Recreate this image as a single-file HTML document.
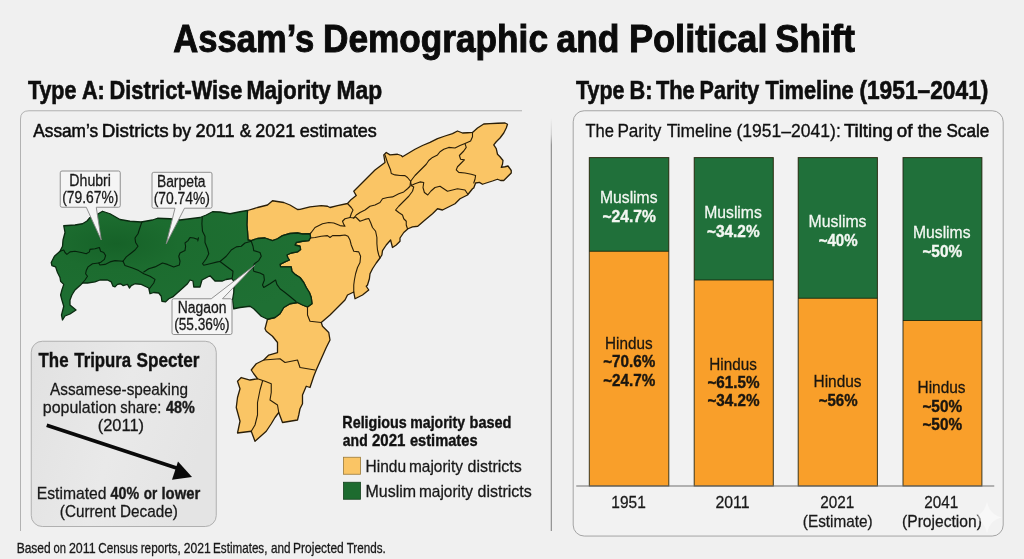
<!DOCTYPE html>
<html lang="en"><head><meta charset="utf-8"><title>Assam’s Demographic and Political Shift</title>
<style>html,body{margin:0;padding:0;background:#f0f0f0;}body{width:1024px;height:559px;overflow:hidden;}svg{display:block}</style>
</head><body>
<svg width="1024" height="559" viewBox="0 0 1024 559" font-family="'Liberation Sans', Arial, sans-serif">
<defs>
<linearGradient id="tg" x1="0" y1="0" x2="1" y2="0.3"><stop offset="0" stop-color="#e1e1e1"/><stop offset="0.55" stop-color="#e9e9e9"/><stop offset="1" stop-color="#e4e4e4"/></linearGradient>
<radialGradient id="gg" cx="0.25" cy="0.3" r="0.8"><stop offset="0" stop-color="#166228"/><stop offset="0.3" stop-color="#1c6c2f"/><stop offset="1" stop-color="#1f7034"/></radialGradient>
<linearGradient id="vl" x1="0" y1="0" x2="0" y2="1"><stop offset="0" stop-color="#707070" stop-opacity="0"/><stop offset="0.04" stop-color="#707070" stop-opacity="0.35"/><stop offset="0.065" stop-color="#707070" stop-opacity="1"/><stop offset="1" stop-color="#707070"/></linearGradient>
</defs>
<rect width="1024" height="559" fill="#f0f0f0"/>
<!-- left panel lines -->
<path d="M20.5,531 V119 Q20.5,110.75 29,110.75 H522" fill="none" stroke="#aaaaaa" stroke-width="0.9"/>
<rect x="550.8" y="118" width="0.9" height="413" fill="url(#vl)"/>
<!-- right panel -->
<rect x="573.2" y="110.75" width="430" height="425.3" rx="11" ry="11" fill="#f2f2f2" stroke="#a4a4a4" stroke-width="1"/>
<!-- map -->
<g stroke-linejoin="round" stroke-linecap="round">
<path d="M247.5,210.5 L257.5,207.5 L267.5,205 L272.5,200.75 L283.75,202.5 L290,205 L297.5,209.5 L300,209.4 L310,206.9 L321.25,205.6 L327.5,206.25 L330,207.5 L337.5,205.6 L347.5,203.5 L351.25,199.4 L356.25,195.6 L353.75,191.25 L360,185 L367.5,177.5 L375,170 L385,162.5 L383.75,155 L386.25,152.5 L390,154.9 L397.5,154.25 L401.25,155.5 L402.5,156.75 L408.75,153 L415,149.25 L422.5,145.5 L430,142.4 L437.5,138.6 L445,136 L452.5,133.6 L457.5,131 L462.5,133 L467.5,132.75 L472.5,132.4 L477.5,128 L483.75,124 L490,123.6 L497.5,123.25 L505,123 L507.5,124.25 L506.25,128 L503.75,133 L500,138 L496.25,141.75 L493.75,144.9 L496.25,148.6 L497.5,154.25 L500,156.75 L503,160.5 L502.5,164.25 L501.25,167.4 L505,166.75 L508,166 L511.25,170.5 L511.25,173 L507.5,176.75 L503.75,180.5 L500.6,180.5 L497.5,179.25 L492.5,181 L486.25,183 L482.5,184.25 L479.4,182.4 L475.6,183 L473.75,187.9 L472.5,188.75 L467.5,195 L460,198.75 L455,203.75 L447.5,207.5 L442.5,210 L437.5,208.75 L432.5,213.75 L425,220 L417.75,226.25 L412.5,226.9 L408,228.75 L403.75,232.5 L400,238 L400,241.25 L396.25,245 L392.5,247.5 L390.6,240 L386.25,245 L382.5,250.6 L381.9,255 L380,258 L376.25,263 L372.5,268.75 L370,273.75 L369.4,278.75 L367.5,285 L366.25,286.25 L368.75,290 L362.5,295 L355,298.75 L353.75,292 L347.5,295 L345,300 L337.5,307.5 L330,315 L321.25,322.5 L322.5,326.25 L328.75,332.5 L330,340 L326.25,347.5 L321.25,358.75 L316.25,370 L313.75,376.25 L311.25,383.75 L310,387.5 L306.25,386.25 L302.5,395 L302.5,403.75 L300,408.75 L298.75,415 L297.5,420 L282.5,422.5 L278.75,412.5 L275,417.5 L271.25,423.75 L266.25,431.25 L255,441.25 L251.25,431.25 L237.5,433 L240,421.25 L236.25,407.5 L237.5,397.5 L240,388.75 L237.5,381.25 L241.25,377.5 L250,380 L257.5,378.75 L253.75,373.75 L251.25,370 L256.25,363.75 L263.75,360 L268.75,355 L277.5,352.5 L277.5,342.5 L272.5,336.25 L266.25,331.25 L265,328.75 L267.5,319.25 L275,317.5 L280,313.75 L283.75,307.5 L290,303.75 L297.5,302.5 L302.5,305 L307.5,307 L312,303.75 L311.25,297.5 L309.4,292.5 L306.25,287.5 L303.75,282.5 L300,277.5 L295,274.4 L291.9,271.25 L291.25,266.9 L286.25,266.9 L280.6,266.9 L280,264.4 L285,261.9 L289.4,260 L288,258 L286.9,255 L291.25,253 L297.5,251.9 L300.6,249.4 L300,246.25 L295,245 L296.25,242.5 L302.5,241.25 L308.75,240.6 L310.6,237.5 L310,233.75 L302.5,234 L297.5,233 L290,233.5 L282.5,235.6 L277.5,238.75 L272.5,240.6 L265,238 L257.5,238.5 L251.25,240.6 L248,240 L247.5,231.25 L246.9,225 L247.5,210.5Z" fill="#fac565" stroke="#2a1e08" stroke-width="1.3"/>
<path d="M63.75,225.75 L75,225 L82.5,223.75 L87,221 L90,217.5 L96.25,215 L102.5,211.25 L110,213.75 L120,219.5 L130,221.25 L141.25,222 L152.5,220 L157.5,218.25 L170,218.75 L180,220 L190,218.75 L200,217.5 L206.25,215 L212.5,211.75 L220,212 L230,213.75 L240,211.75 L247.5,210.5 L246.9,225 L247.5,231.25 L248,240 L251.25,240.6 L257.5,238.5 L265,238 L272.5,240.6 L277.5,238.75 L282.5,235.6 L290,233.5 L297.5,233 L302.5,234 L310,233.75 L310.6,237.5 L308.75,240.6 L302.5,241.25 L296.25,242.5 L295,245 L300,246.25 L300.6,249.4 L297.5,251.9 L291.25,253 L286.9,255 L288,258 L289.4,260 L285,261.9 L280,264.4 L280.6,266.9 L286.25,266.9 L291.25,266.9 L291.9,271.25 L295,274.4 L300,277.5 L303.75,282.5 L306.25,287.5 L309.4,292.5 L311.25,297.5 L312,303.75 L307.5,307 L302.5,305 L297.5,302.5 L290,303.75 L283.75,307.5 L280,313.75 L275,317.5 L267.5,319.25 L261.25,316.25 L253.75,308.75 L250,306.25 L240,307.5 L233.75,308.75 L232.5,300 L233.75,292.5 L234,282 L232,278.5 L226,279.5 L222.5,281 L215,281 L210,275.75 L202,280 L200,287 L193.75,287 L193,281 L190,280 L187.5,283.75 L180,290.5 L172.75,296.9 L168.75,298.75 L165.6,301.9 L161.9,301.25 L161.25,296.25 L158.75,293 L153.75,292.5 L150,293.75 L148.75,288 L145,286.25 L141.25,284.4 L135,283.75 L131.25,285.6 L129.4,288 L127.5,284.4 L123,285.6 L120.6,283.75 L117.5,284.4 L115,286.9 L113,286.25 L111.25,281.9 L107.5,280 L100,280 L95,281.9 L87.5,283 L82.5,283 L80,285.6 L75,290 L71.9,295 L70,300 L70,305 L76,310 L70,314 L65,316 L62.5,320 L61.5,315 L63.75,306.25 L61.9,300 L60.6,295 L61.9,290 L63.75,284.4 L60.6,281.25 L60,277.5 L57.5,272.5 L55.6,266.9 L51.9,265.6 L51.25,262.5 L54.4,256.25 L60,251.25 L62.5,246.25 L63,240 L65,232.5Z" fill="url(#gg)" stroke="#0a2a10" stroke-width="1.3"/>
<g fill="none" stroke="#2a1e08" stroke-width="1.1">
<path d="M347.5,203.5 L351.25,207.5 L353,210 L351.25,213.75 L350,217.5 L353.75,218"/><path d="M353.75,218 L356.25,215 L360,212.5 L365,210 L370,206.25 L375,205 L380,202.5 L382.5,198.75 L387.5,197.5 L392.5,196.9 L398.75,193.75 L403.75,191.9 L407.5,188.75 L410,186.25 L410.6,181.25"/><path d="M385,155 L387.5,162.5 L390.6,170 L391.25,173.5 L395,174.9 L400,175.5 L405,175.6 L407.5,177.5 L410.6,181.25"/><path d="M410.6,181.25 L415,175.5 L418.75,171.75 L422.5,168 L426.25,164.25 L428.75,160.5 L432.5,157.4 L437.5,154.9 L440,151.75 L443.75,149.25 L448.75,147.4 L455,148 L460,145.5 L465,143.6 L470.6,141 L472.5,136.75 L472.5,132.4"/><path d="M465,143.6 L466.25,147.4 L463.75,151 L459.4,155.5 L460.6,159.25 L464.4,159.9 L461.25,163 L457.5,166.75 L456.25,169.9 L458.75,172.4 L465,173 L471.25,174.25 L475.6,175.5 L475,179.25 L473.75,183"/><path d="M410.6,181.25 L411.25,185.6 L415,183.75 L420,181.9 L423.75,182.5 L423,187.5 L424.4,192.5 L427.75,195 L431,191 L435,187.5 L440,186.25 L447.5,191.25 L457.5,188.75 L465,190 L467.5,193.75"/><path d="M411.25,185.6 L413.75,186.9 L412.5,191.25 L408.75,196.25 L403.75,201.25 L398.75,206.25 L395.6,210 L398.75,212.5 L402.5,215 L403.75,218.75 L406.25,221.25 L406.25,225 L407.5,228.75"/><path d="M353.75,218 L355.6,216.9 L357.5,218.75 L360,221.25 L365,219.4 L368.75,218.5 L370.6,222.5 L372.5,227.5 L375.6,231.25 L376.9,237.5 L376.9,243.75 L377.5,250 L378.75,255 L380,258"/><path d="M350,217.5 L345,218.75 L342.5,221.25 L343.75,224.4 L345,226.25 L340,225.6 L333.75,223 L328.75,222.5 L322.5,223.75 L315,227.5 L311.25,232.5 L310,233.75"/><path d="M310.6,238 L315,237.5 L321.25,236.25 L327.5,235.6 L330,237.5 L332.5,235.6 L340,235.6 L345,235 L348,236.25 L350,240 L351.25,245 L353.75,251.25 L358.75,251.9 L360.6,256.25 L360,262.5 L357.5,267.5 L355.6,273.75 L354.4,280 L353.75,285 L353.75,292"/><path d="M307.5,307 L307.5,315 L310,321.25 L321.25,322.5"/><path d="M263.75,360 L280,358.75 L285,362.5 L297.5,360 L300,367.5 L315,370"/><path d="M257.5,378.75 L265,381.25 L271.25,383.75 L271.25,392.5 L270,400 L277.5,405 L278.75,412.5"/><path d="M262.5,381.25 L260,390 L257.5,402.5 L257.5,415 L255,425 L251.25,431.25"/>
</g>
<g fill="none" stroke="#06220c" stroke-width="1.1">
<path d="M141.9,221.9 L140,227.5 L138,233.75 L135,238 L135.6,242.5 L138,246.25 L135,250 L131.25,253 L126.25,256.9 L123,261.25"/><path d="M60,251.25 L63.75,250 L65,252.5 L66.9,254.4 L70,251.9 L75,251.25 L81.25,252.5 L86.25,253.75 L89.4,251.9 L90,249.4 L95,248.75 L99.4,247.5 L100.6,251.25 L103.75,252.5 L105.6,255.6 L104.4,259.4 L101.25,261.9 L98.75,263 L100,265 L105,264.4 L110,261.9 L115,260.6 L123,261.25"/><path d="M98.75,263 L92.5,263.75 L88,266.9 L86.25,270.6 L85.6,273.75 L87.5,276.25 L85,280 L82.5,283"/><path d="M123,261.25 L125,265.6 L132.5,268 L138.75,270.6 L143.75,273.75 L150,276.25 L155,279.4 L153.75,283 L151.25,286.25 L149.4,288.75"/><path d="M143.75,272 L148.75,268.75 L155,266.9 L162.5,263 L167.5,264.4 L173.75,266.9 L179.4,265 L180,261.25 L178.75,256.25 L180,253 L185,250.6 L185.6,246.25 L185,243 L188,240.6 L190,237.5 L193.75,238 L198,239.4 L198.5,237.75 L197.8,241"/><path d="M202.25,217.5 L201.9,223.75 L202.5,231.25 L205,236.25 L205,242.5 L207.5,248.75 L208.75,253.75 L206.25,258.75 L202.5,263.75 L203.75,265.25 L210,263.75 L217.5,261.9 L220,261.5"/><path d="M220,261.5 L226.25,256.25 L231.25,250 L236.25,246.9 L241.25,246.25 L245,243 L251.25,241.25"/><path d="M220,261.5 L226.25,266.25 L233,271.25 L232.5,276.25 L232,278.5"/><path d="M251.25,241.25 L253,246.25 L253.75,250.6 L260,252.5 L261.25,256.25 L258.75,260.6 L254.4,263.75 L253,267"/><path d="M253,267 L253.75,271.25 L260,273 L263.75,275 L264.4,280 L262.5,285 L263.75,287.5 L270,283.75 L275.6,280 L276.9,284.4 L280,288.75 L285,292.5 L290,296.5 L296,301.5"/><path d="M253,267 L247.5,272.5 L242.5,276.25 L235,280"/>
</g>
</g>
<!-- callouts -->
<g fill="#f5f5f5" stroke="#858585" stroke-width="0.9" stroke-linejoin="round">
<path d="M62,171 H118.5 Q120.25,171 120.25,172.75 V205.5 Q120.25,207.25 118.5,207.25 H96.25 L101.25,240 L86.25,207.25 H62 Q60.25,207.25 60.25,205.5 V172.75 Q60.25,171 62,171Z"/>
<path d="M153.75,172.3 H210.25 Q212,172.3 212,174 V206.5 Q212,208.2 210.25,208.2 H184.5 L166.25,243.75 L175,208.2 H153.75 Q152,208.2 152,206.5 V174 Q152,172.3 153.75,172.3Z"/>
<path d="M173.75,298.75 H211.25 L255,265 L222.5,298.75 H230.25 Q232,298.75 232,300.5 V332.75 Q232,334.5 230.25,334.5 H173.75 Q172,334.5 172,332.75 V300.5 Q172,298.75 173.75,298.75Z"/>
</g>
<!-- Tripura box -->
<rect x="31.25" y="341.25" width="185" height="185.25" rx="11" ry="11" fill="url(#tg)" stroke="#b0b0b0" stroke-width="1"/>
<path d="M46.75,425.25 L178,468.5" stroke="#0a0a0a" stroke-width="3.6" fill="none"/>
<path d="M192,477 L172,479.75 L178,461.5Z" fill="#0a0a0a"/>
<!-- legend -->
<rect x="343.5" y="457.25" width="17" height="17" fill="#fac565" stroke="#9a7a3a" stroke-width="0.8"/>
<rect x="343.5" y="482.25" width="17" height="17" fill="#1d6b2f" stroke="#14401c" stroke-width="0.8"/>
<!-- bars -->
<rect x="589.3" y="157.6" width="79.5" height="328.4" fill="#f99f2a"/><rect x="589.3" y="157.6" width="79.5" height="93.65" fill="#20703a"/><rect x="589.3" y="157.6" width="79.5" height="328.4" fill="none" stroke="#1c200e" stroke-width="1" stroke-opacity="0.85"/><line x1="589.3" x2="668.8" y1="251.25" y2="251.25" stroke="#15240c" stroke-width="1" stroke-opacity="0.85"/><rect x="694.2" y="157.6" width="79.1" height="328.4" fill="#f99f2a"/><rect x="694.2" y="157.6" width="79.1" height="122.4" fill="#20703a"/><rect x="694.2" y="157.6" width="79.1" height="328.4" fill="none" stroke="#1c200e" stroke-width="1" stroke-opacity="0.85"/><line x1="694.2" x2="773.3" y1="280" y2="280" stroke="#15240c" stroke-width="1" stroke-opacity="0.85"/><rect x="798.2" y="157.6" width="79.2" height="328.4" fill="#f99f2a"/><rect x="798.2" y="157.6" width="79.2" height="140.65" fill="#20703a"/><rect x="798.2" y="157.6" width="79.2" height="328.4" fill="none" stroke="#1c200e" stroke-width="1" stroke-opacity="0.85"/><line x1="798.2" x2="877.4" y1="298.25" y2="298.25" stroke="#15240c" stroke-width="1" stroke-opacity="0.85"/><rect x="903" y="157.6" width="78.9" height="328.4" fill="#f99f2a"/><rect x="903" y="157.6" width="78.9" height="162.9" fill="#20703a"/><rect x="903" y="157.6" width="78.9" height="328.4" fill="none" stroke="#1c200e" stroke-width="1" stroke-opacity="0.85"/><line x1="903" x2="981.9" y1="320.5" y2="320.5" stroke="#15240c" stroke-width="1" stroke-opacity="0.85"/>
<line x1="576.25" x2="994.25" y1="486" y2="486" stroke="#707070" stroke-width="1.2"/>
<text x="173.23" y="51.8" font-size="39.7" font-weight="700" fill="#0b0b0b" stroke="#0b0b0b" stroke-width="1.0" textLength="141.13" lengthAdjust="spacingAndGlyphs">Assam’s</text>
<text x="323.01" y="51.8" font-size="39.7" font-weight="700" fill="#0b0b0b" stroke="#0b0b0b" stroke-width="1.0" textLength="224.97" lengthAdjust="spacingAndGlyphs">Demographic</text>
<text x="556.53" y="51.8" font-size="39.7" font-weight="700" fill="#0b0b0b" stroke="#0b0b0b" stroke-width="1.0" textLength="62.99" lengthAdjust="spacingAndGlyphs">and</text>
<text x="628.95" y="51.8" font-size="39.7" font-weight="700" fill="#0b0b0b" stroke="#0b0b0b" stroke-width="1.0" textLength="138.56" lengthAdjust="spacingAndGlyphs">Political</text>
<text x="775.21" y="51.8" font-size="39.7" font-weight="700" fill="#0b0b0b" stroke="#0b0b0b" stroke-width="1.0" textLength="79.81" lengthAdjust="spacingAndGlyphs">Shift</text>
<text x="27.89" y="98.75" font-size="24.9" font-weight="700" fill="#0e0e0e" stroke="#0e0e0e" stroke-width="0.6" textLength="48.56" lengthAdjust="spacingAndGlyphs">Type</text>
<text x="81.96" y="98.75" font-size="24.9" font-weight="700" fill="#0e0e0e" stroke="#0e0e0e" stroke-width="0.6" textLength="22.85" lengthAdjust="spacingAndGlyphs">A:</text>
<text x="109.59" y="98.75" font-size="24.9" font-weight="700" fill="#0e0e0e" stroke="#0e0e0e" stroke-width="0.6" textLength="132.65" lengthAdjust="spacingAndGlyphs">District-Wise</text>
<text x="246.57" y="98.75" font-size="24.9" font-weight="700" fill="#0e0e0e" stroke="#0e0e0e" stroke-width="0.6" textLength="84.27" lengthAdjust="spacingAndGlyphs">Majority</text>
<text x="336.52" y="98.75" font-size="24.9" font-weight="700" fill="#0e0e0e" stroke="#0e0e0e" stroke-width="0.6" textLength="45.65" lengthAdjust="spacingAndGlyphs">Map</text>
<text x="576.04" y="98.75" font-size="24.9" font-weight="700" fill="#0e0e0e" stroke="#0e0e0e" stroke-width="0.6" textLength="48.46" lengthAdjust="spacingAndGlyphs">Type</text>
<text x="629.58" y="98.75" font-size="24.9" font-weight="700" fill="#0e0e0e" stroke="#0e0e0e" stroke-width="0.6" textLength="22.99" lengthAdjust="spacingAndGlyphs">B:</text>
<text x="655.88" y="98.75" font-size="24.9" font-weight="700" fill="#0e0e0e" stroke="#0e0e0e" stroke-width="0.6" textLength="38.84" lengthAdjust="spacingAndGlyphs">The</text>
<text x="699.60" y="98.75" font-size="24.9" font-weight="700" fill="#0e0e0e" stroke="#0e0e0e" stroke-width="0.6" textLength="59.74" lengthAdjust="spacingAndGlyphs">Parity</text>
<text x="765.53" y="98.75" font-size="24.9" font-weight="700" fill="#0e0e0e" stroke="#0e0e0e" stroke-width="0.6" textLength="88.21" lengthAdjust="spacingAndGlyphs">Timeline</text>
<text x="859.42" y="98.75" font-size="24.9" font-weight="700" fill="#0e0e0e" stroke="#0e0e0e" stroke-width="0.6" textLength="128.95" lengthAdjust="spacingAndGlyphs">(1951–2041)</text>
<text x="33.25" y="137" font-size="19" font-weight="400" fill="#0d0d0d" stroke="#0d0d0d" stroke-width="0.55" textLength="64.86" lengthAdjust="spacingAndGlyphs">Assam’s</text>
<text x="101.74" y="137" font-size="19" font-weight="400" fill="#0d0d0d" stroke="#0d0d0d" stroke-width="0.55" textLength="66.92" lengthAdjust="spacingAndGlyphs">Districts</text>
<text x="172.40" y="137" font-size="19" font-weight="400" fill="#0d0d0d" stroke="#0d0d0d" stroke-width="0.55" textLength="18.62" lengthAdjust="spacingAndGlyphs">by</text>
<text x="195.59" y="137" font-size="19" font-weight="400" fill="#0d0d0d" stroke="#0d0d0d" stroke-width="0.55" textLength="39.03" lengthAdjust="spacingAndGlyphs">2011</text>
<text x="239.64" y="137" font-size="19" font-weight="400" fill="#0d0d0d" stroke="#0d0d0d" stroke-width="0.55" textLength="11.61" lengthAdjust="spacingAndGlyphs">&amp;</text>
<text x="255.36" y="137" font-size="19" font-weight="400" fill="#0d0d0d" stroke="#0d0d0d" stroke-width="0.55" textLength="39.78" lengthAdjust="spacingAndGlyphs">2021</text>
<text x="299.73" y="137" font-size="19" font-weight="400" fill="#0d0d0d" stroke="#0d0d0d" stroke-width="0.55" textLength="77.14" lengthAdjust="spacingAndGlyphs">estimates</text>
<text x="585.42" y="137" font-size="19" font-weight="400" fill="#111" stroke="#111" stroke-width="0.3" textLength="28.55" lengthAdjust="spacingAndGlyphs">The</text>
<text x="617.38" y="137" font-size="19" font-weight="400" fill="#111" stroke="#111" stroke-width="0.3" textLength="43.89" lengthAdjust="spacingAndGlyphs">Parity</text>
<text x="666.65" y="137" font-size="19" font-weight="400" fill="#111" stroke="#111" stroke-width="0.3" textLength="65.37" lengthAdjust="spacingAndGlyphs">Timeline</text>
<text x="736.45" y="137" font-size="19" font-weight="400" fill="#111" stroke="#111" stroke-width="0.3" textLength="104.37" lengthAdjust="spacingAndGlyphs">(1951–2041):</text>
<text x="843.88" y="137" font-size="19" font-weight="400" fill="#0d0d0d" stroke="#0d0d0d" stroke-width="0.55" textLength="49.05" lengthAdjust="spacingAndGlyphs">Tilting</text>
<text x="896.75" y="137" font-size="19" font-weight="400" fill="#0d0d0d" stroke="#0d0d0d" stroke-width="0.55" textLength="15.74" lengthAdjust="spacingAndGlyphs">of</text>
<text x="917.74" y="137" font-size="19" font-weight="400" fill="#0d0d0d" stroke="#0d0d0d" stroke-width="0.55" textLength="24.26" lengthAdjust="spacingAndGlyphs">the</text>
<text x="946.48" y="137" font-size="19" font-weight="400" fill="#0d0d0d" stroke="#0d0d0d" stroke-width="0.55" textLength="42.77" lengthAdjust="spacingAndGlyphs">Scale</text>
<text x="69.37" y="185.5" font-size="16" font-weight="400" fill="#181818" stroke="#181818" stroke-width="0.28" textLength="41.60" lengthAdjust="spacingAndGlyphs">Dhubri</text>
<text x="62.17" y="202.5" font-size="16" font-weight="400" fill="#181818" stroke="#181818" stroke-width="0.28" textLength="56.16" lengthAdjust="spacingAndGlyphs">(79.67%)</text>
<text x="156.89" y="186.5" font-size="16" font-weight="400" fill="#181818" stroke="#181818" stroke-width="0.28" textLength="48.58" lengthAdjust="spacingAndGlyphs">Barpeta</text>
<text x="153.67" y="203.5" font-size="16" font-weight="400" fill="#181818" stroke="#181818" stroke-width="0.28" textLength="56.16" lengthAdjust="spacingAndGlyphs">(70.74%)</text>
<text x="177.64" y="312.5" font-size="16" font-weight="400" fill="#181818" stroke="#181818" stroke-width="0.28" textLength="48.74" lengthAdjust="spacingAndGlyphs">Nagaon</text>
<text x="174.18" y="329.75" font-size="16" font-weight="400" fill="#181818" stroke="#181818" stroke-width="0.28" textLength="55.39" lengthAdjust="spacingAndGlyphs">(55.36%)</text>
<text x="38.58" y="367" font-size="20.5" font-weight="700" fill="#111" stroke="#111" stroke-width="0.4" textLength="29.97" lengthAdjust="spacingAndGlyphs">The</text>
<text x="74.33" y="367" font-size="20.5" font-weight="700" fill="#111" stroke="#111" stroke-width="0.4" textLength="56.83" lengthAdjust="spacingAndGlyphs">Tripura</text>
<text x="136.53" y="367" font-size="20.5" font-weight="700" fill="#111" stroke="#111" stroke-width="0.4" textLength="62.95" lengthAdjust="spacingAndGlyphs">Specter</text>
<text x="50.00" y="394.5" font-size="17" font-weight="400" fill="#181818" stroke="#181818" stroke-width="0.28" textLength="137.99" lengthAdjust="spacingAndGlyphs">Assamese-speaking</text>
<text x="42.75" y="412.5" font-size="17" font-weight="400" fill="#1a1a1a" stroke="#1a1a1a" stroke-width="0.28" textLength="73.75" lengthAdjust="spacingAndGlyphs">population</text>
<text x="120.34" y="412.5" font-size="17" font-weight="400" fill="#1a1a1a" stroke="#1a1a1a" stroke-width="0.28" textLength="40.97" lengthAdjust="spacingAndGlyphs">share:</text>
<text x="166.03" y="412.5" font-size="17" font-weight="700" fill="#1a1a1a" stroke="#1a1a1a" stroke-width="0.4" textLength="28.81" lengthAdjust="spacingAndGlyphs">48%</text>
<text x="97.76" y="430.5" font-size="17" font-weight="400" fill="#181818" stroke="#181818" stroke-width="0.28" textLength="46.24" lengthAdjust="spacingAndGlyphs">(2011)</text>
<text x="36.74" y="499" font-size="17" font-weight="400" fill="#1a1a1a" stroke="#1a1a1a" stroke-width="0.28" textLength="69.76" lengthAdjust="spacingAndGlyphs">Estimated</text>
<text x="110.54" y="499" font-size="17" font-weight="700" fill="#1a1a1a" stroke="#1a1a1a" stroke-width="0.4" textLength="28.56" lengthAdjust="spacingAndGlyphs">40%</text>
<text x="143.75" y="499" font-size="17" font-weight="700" fill="#1a1a1a" stroke="#1a1a1a" stroke-width="0.4" textLength="13.46" lengthAdjust="spacingAndGlyphs">or</text>
<text x="161.50" y="499" font-size="17" font-weight="700" fill="#1a1a1a" stroke="#1a1a1a" stroke-width="0.4" textLength="38.71" lengthAdjust="spacingAndGlyphs">lower</text>
<text x="59.83" y="517" font-size="17" font-weight="400" fill="#181818" stroke="#181818" stroke-width="0.28" textLength="55.99" lengthAdjust="spacingAndGlyphs">(Current</text>
<text x="120.02" y="517" font-size="17" font-weight="400" fill="#181818" stroke="#181818" stroke-width="0.28" textLength="57.89" lengthAdjust="spacingAndGlyphs">Decade)</text>
<text x="342.32" y="427.5" font-size="17" font-weight="700" fill="#111" stroke="#111" stroke-width="0.4" textLength="64.48" lengthAdjust="spacingAndGlyphs">Religious</text>
<text x="410.34" y="427.5" font-size="17" font-weight="700" fill="#111" stroke="#111" stroke-width="0.4" textLength="54.70" lengthAdjust="spacingAndGlyphs">majority</text>
<text x="469.56" y="427.5" font-size="17" font-weight="700" fill="#111" stroke="#111" stroke-width="0.4" textLength="41.89" lengthAdjust="spacingAndGlyphs">based</text>
<text x="342.87" y="445.5" font-size="17" font-weight="700" fill="#111" stroke="#111" stroke-width="0.4" textLength="24.80" lengthAdjust="spacingAndGlyphs">and</text>
<text x="372.01" y="445.5" font-size="17" font-weight="700" fill="#111" stroke="#111" stroke-width="0.4" textLength="33.40" lengthAdjust="spacingAndGlyphs">2021</text>
<text x="409.95" y="445.5" font-size="17" font-weight="700" fill="#111" stroke="#111" stroke-width="0.4" textLength="67.62" lengthAdjust="spacingAndGlyphs">estimates</text>
<text x="365.51" y="472" font-size="17" font-weight="400" fill="#181818" stroke="#181818" stroke-width="0.28" textLength="40.50" lengthAdjust="spacingAndGlyphs">Hindu</text>
<text x="409.00" y="472" font-size="17" font-weight="400" fill="#181818" stroke="#181818" stroke-width="0.28" textLength="54.01" lengthAdjust="spacingAndGlyphs">majority</text>
<text x="467.61" y="472" font-size="17" font-weight="400" fill="#181818" stroke="#181818" stroke-width="0.28" textLength="54.19" lengthAdjust="spacingAndGlyphs">districts</text>
<text x="365.47" y="497" font-size="17" font-weight="400" fill="#181818" stroke="#181818" stroke-width="0.28" textLength="50.59" lengthAdjust="spacingAndGlyphs">Muslim</text>
<text x="419.00" y="497" font-size="17" font-weight="400" fill="#181818" stroke="#181818" stroke-width="0.28" textLength="54.01" lengthAdjust="spacingAndGlyphs">majority</text>
<text x="477.61" y="497" font-size="17" font-weight="400" fill="#181818" stroke="#181818" stroke-width="0.28" textLength="54.19" lengthAdjust="spacingAndGlyphs">districts</text>
<text x="16.64" y="553" font-size="14.5" font-weight="400" fill="#181818" stroke="#181818" stroke-width="0.28" textLength="34.12" lengthAdjust="spacingAndGlyphs">Based</text>
<text x="53.45" y="553" font-size="14.5" font-weight="400" fill="#181818" stroke="#181818" stroke-width="0.28" textLength="12.48" lengthAdjust="spacingAndGlyphs">on</text>
<text x="68.88" y="553" font-size="14.5" font-weight="400" fill="#181818" stroke="#181818" stroke-width="0.28" textLength="26.72" lengthAdjust="spacingAndGlyphs">2011</text>
<text x="98.21" y="553" font-size="14.5" font-weight="400" fill="#181818" stroke="#181818" stroke-width="0.28" textLength="39.70" lengthAdjust="spacingAndGlyphs">Census</text>
<text x="140.63" y="553" font-size="14.5" font-weight="400" fill="#181818" stroke="#181818" stroke-width="0.28" textLength="40.11" lengthAdjust="spacingAndGlyphs">reports,</text>
<text x="183.79" y="553" font-size="14.5" font-weight="400" fill="#181818" stroke="#181818" stroke-width="0.28" textLength="27.01" lengthAdjust="spacingAndGlyphs">2021</text>
<text x="213.07" y="553" font-size="14.5" font-weight="400" fill="#181818" stroke="#181818" stroke-width="0.28" textLength="54.36" lengthAdjust="spacingAndGlyphs">Estimates,</text>
<text x="271.00" y="553" font-size="14.5" font-weight="400" fill="#181818" stroke="#181818" stroke-width="0.28" textLength="19.54" lengthAdjust="spacingAndGlyphs">and</text>
<text x="293.04" y="553" font-size="14.5" font-weight="400" fill="#181818" stroke="#181818" stroke-width="0.28" textLength="50.74" lengthAdjust="spacingAndGlyphs">Projected</text>
<text x="346.67" y="553" font-size="14.5" font-weight="400" fill="#181818" stroke="#181818" stroke-width="0.28" textLength="39.19" lengthAdjust="spacingAndGlyphs">Trends.</text>
<text x="599.99" y="203.3" font-size="17.2" font-weight="400" fill="#f3f7f2" stroke="#f3f7f2" stroke-width="0.28" textLength="57.54" lengthAdjust="spacingAndGlyphs">Muslims</text>
<text x="602.41" y="222.2" font-size="17.2" font-weight="700" fill="#f3f7f2" stroke="#f3f7f2" stroke-width="0.4" textLength="53.47" lengthAdjust="spacingAndGlyphs">~24.7%</text>
<text x="704.24" y="217.8" font-size="17.2" font-weight="400" fill="#f3f7f2" stroke="#f3f7f2" stroke-width="0.28" textLength="57.54" lengthAdjust="spacingAndGlyphs">Muslims</text>
<text x="706.92" y="236.7" font-size="17.2" font-weight="700" fill="#f3f7f2" stroke="#f3f7f2" stroke-width="0.4" textLength="52.71" lengthAdjust="spacingAndGlyphs">~34.2%</text>
<text x="808.48" y="227" font-size="17.2" font-weight="400" fill="#f3f7f2" stroke="#f3f7f2" stroke-width="0.28" textLength="58.06" lengthAdjust="spacingAndGlyphs">Muslims</text>
<text x="818.69" y="246.2" font-size="17.2" font-weight="700" fill="#f3f7f2" stroke="#f3f7f2" stroke-width="0.4" textLength="38.91" lengthAdjust="spacingAndGlyphs">~40%</text>
<text x="912.99" y="238.3" font-size="17.2" font-weight="400" fill="#f3f7f2" stroke="#f3f7f2" stroke-width="0.28" textLength="57.54" lengthAdjust="spacingAndGlyphs">Muslims</text>
<text x="922.42" y="257.2" font-size="17.2" font-weight="700" fill="#f3f7f2" stroke="#f3f7f2" stroke-width="0.4" textLength="39.68" lengthAdjust="spacingAndGlyphs">~50%</text>
<text x="605.03" y="348.6" font-size="17.2" font-weight="400" fill="#1a1610" stroke="#1a1610" stroke-width="0.28" textLength="47.51" lengthAdjust="spacingAndGlyphs">Hindus</text>
<text x="603.18" y="366.8" font-size="17.2" font-weight="700" fill="#1a1610" stroke="#1a1610" stroke-width="0.4" textLength="52.20" lengthAdjust="spacingAndGlyphs">~70.6%</text>
<text x="603.18" y="385.5" font-size="17.2" font-weight="700" fill="#1a1610" stroke="#1a1610" stroke-width="0.4" textLength="52.20" lengthAdjust="spacingAndGlyphs">~24.7%</text>
<text x="709.28" y="369.6" font-size="17.2" font-weight="400" fill="#1a1610" stroke="#1a1610" stroke-width="0.28" textLength="47.51" lengthAdjust="spacingAndGlyphs">Hindus</text>
<text x="707.43" y="388" font-size="17.2" font-weight="700" fill="#1a1610" stroke="#1a1610" stroke-width="0.4" textLength="52.20" lengthAdjust="spacingAndGlyphs">~61.5%</text>
<text x="707.43" y="406.2" font-size="17.2" font-weight="700" fill="#1a1610" stroke="#1a1610" stroke-width="0.4" textLength="52.20" lengthAdjust="spacingAndGlyphs">~34.2%</text>
<text x="813.52" y="387" font-size="17.2" font-weight="400" fill="#1a1610" stroke="#1a1610" stroke-width="0.28" textLength="48.03" lengthAdjust="spacingAndGlyphs">Hindus</text>
<text x="818.69" y="405.5" font-size="17.2" font-weight="700" fill="#1a1610" stroke="#1a1610" stroke-width="0.4" textLength="38.91" lengthAdjust="spacingAndGlyphs">~56%</text>
<text x="917.52" y="392.8" font-size="17.2" font-weight="400" fill="#1a1610" stroke="#1a1610" stroke-width="0.28" textLength="48.03" lengthAdjust="spacingAndGlyphs">Hindus</text>
<text x="922.42" y="411.7" font-size="17.2" font-weight="700" fill="#1a1610" stroke="#1a1610" stroke-width="0.4" textLength="39.68" lengthAdjust="spacingAndGlyphs">~50%</text>
<text x="922.42" y="430.2" font-size="17.2" font-weight="700" fill="#1a1610" stroke="#1a1610" stroke-width="0.4" textLength="39.68" lengthAdjust="spacingAndGlyphs">~50%</text>
<text x="611.34" y="507.75" font-size="17" font-weight="400" fill="#1a1a1a" stroke="#1a1a1a" stroke-width="0.28" textLength="34.43" lengthAdjust="spacingAndGlyphs">1951</text>
<text x="715.46" y="507.75" font-size="17" font-weight="400" fill="#1a1a1a" stroke="#1a1a1a" stroke-width="0.28" textLength="34.05" lengthAdjust="spacingAndGlyphs">2011</text>
<text x="820.24" y="507.75" font-size="17" font-weight="400" fill="#1a1a1a" stroke="#1a1a1a" stroke-width="0.28" textLength="34.02" lengthAdjust="spacingAndGlyphs">2021</text>
<text x="802.83" y="526.5" font-size="17" font-weight="400" fill="#1a1a1a" stroke="#1a1a1a" stroke-width="0.28" textLength="69.86" lengthAdjust="spacingAndGlyphs">(Estimate)</text>
<text x="924.24" y="507.75" font-size="17" font-weight="400" fill="#1a1a1a" stroke="#1a1a1a" stroke-width="0.28" textLength="34.02" lengthAdjust="spacingAndGlyphs">2041</text>
<text x="902.06" y="526.5" font-size="17" font-weight="400" fill="#1a1a1a" stroke="#1a1a1a" stroke-width="0.28" textLength="79.88" lengthAdjust="spacingAndGlyphs">(Projection)</text>
<!-- sparkle -->
<path d="M987,501.5 Q989.5,515 1002,517.5 Q989.5,520 987,533.5 Q984.5,520 972,517.5 Q984.5,515 987,501.5Z" fill="#ffffff" opacity="0.45"/>
</svg>
</body></html>
